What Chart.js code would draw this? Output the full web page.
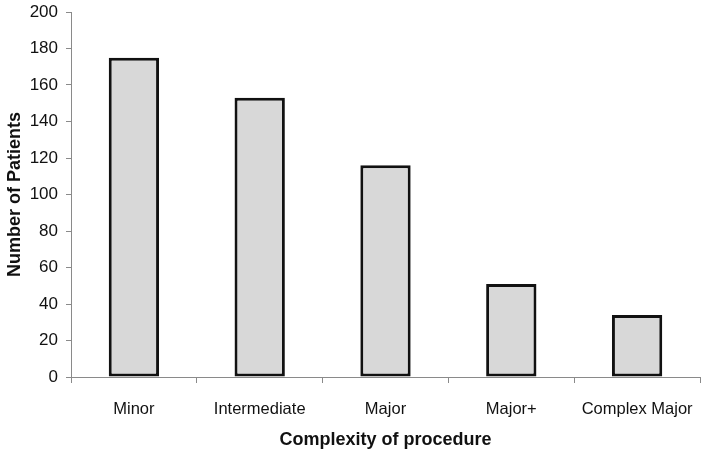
<!DOCTYPE html>
<html lang="en">
<head>
    <meta charset="UTF-8">
    <title>Complexity of procedure</title>
    <script src="https://cdn.jsdelivr.net/npm/chart.js"></script>
    <style>
        html, body { margin: 0; padding: 0; background: #ffffff; }
        #wrap { width: 720px; height: 455px; position: relative; }
    </style>
</head>
<body>
    <div id="wrap">
        <canvas id="procChart" width="720" height="455"></canvas>
    </div>
    <script>
        const categories = ['Minor', 'Intermediate', 'Major', 'Major+', 'Complex Major'];
        const patients = [175, 153, 116, 51, 34];
        const yTicks = [0, 20, 40, 60, 80, 100, 120, 140, 160, 180, 200];

        const font = 'Liberation Sans, Arial, Helvetica, sans-serif';
        const axisGrey = '#8a8a8a';

        const ctx = document.getElementById('procChart').getContext('2d');
        new Chart(ctx, {
            type: 'bar',
            data: {
                labels: categories,
                datasets: [{
                    data: patients,
                    backgroundColor: '#d8d8d8',
                    borderColor: '#111111',
                    borderWidth: 3,
                    borderSkipped: false,
                    barPercentage: 0.4,
                    categoryPercentage: 1.0
                }]
            },
            options: {
                responsive: false,
                animation: false,
                layout: { padding: { top: 12, right: 20, left: 0, bottom: 0 } },
                plugins: {
                    legend: { display: false },
                    tooltip: { enabled: false }
                },
                scales: {
                    x: {
                        grid: {
                            offset: true,
                            drawOnChartArea: false,
                            drawTicks: true,
                            tickLength: 6,
                            color: axisGrey
                        },
                        border: { color: axisGrey, width: 1 },
                        ticks: {
                            color: '#111111',
                            font: { family: font, size: 16.5 },
                            padding: 17
                        },
                        title: {
                            display: true,
                            text: 'Complexity of procedure',
                            color: '#111111',
                            font: { family: font, size: 18, weight: 'bold' },
                            padding: { top: 6 }
                        },
                        afterFit: (scale) => { scale.height = 78; }
                    },
                    y: {
                        min: 0,
                        max: 200,
                        afterBuildTicks: (scale) => {
                            scale.ticks = yTicks.map(v => ({ value: v }));
                        },
                        grid: {
                            drawOnChartArea: false,
                            drawTicks: true,
                            tickLength: 5,
                            color: axisGrey
                        },
                        border: { color: axisGrey, width: 1 },
                        ticks: {
                            color: '#111111',
                            font: { family: font, size: 17 },
                            padding: 8
                        },
                        title: {
                            display: true,
                            text: 'Number of Patients',
                            color: '#111111',
                            font: { family: font, size: 18, weight: 'bold' },
                            padding: { bottom: 2 }
                        },
                        afterFit: (scale) => {
                            scale.width = 71;
                            scale.paddingTop = 0;
                            scale.paddingBottom = 0;
                        }
                    }
                }
            }
        });
    </script>
</body>
</html>
